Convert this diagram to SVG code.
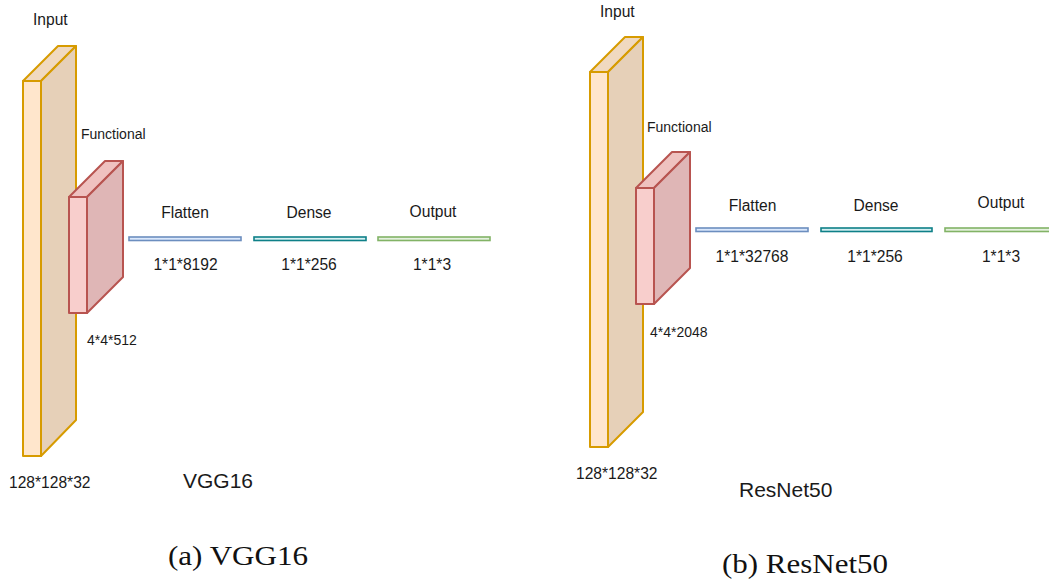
<svg xmlns="http://www.w3.org/2000/svg" width="1049" height="583" viewBox="0 0 1049 583">
  <style>
    .lbl { font-family: "Liberation Sans", Arial, sans-serif; fill: #1a1a1a; }
    .s15 { font-size: 15.6px; }
    .s14 { font-size: 14px; }
    .big { font-size: 21px; }
    .cap { font-family: "Liberation Serif", "Times New Roman", serif; font-size: 27px; fill: #111; }
    .mid { text-anchor: middle; }
    .in-front { fill: #ffe6cc; stroke: #d79b00; stroke-width: 2; stroke-linejoin: round; }
    .in-top { fill: #f0d9c0; stroke: #d79b00; stroke-width: 2; stroke-linejoin: round; }
    .in-side { fill: #e6d0b8; stroke: #d79b00; stroke-width: 2; stroke-linejoin: round; }
    .fn-front { fill: #f8cecc; stroke: #b85450; stroke-width: 2; stroke-linejoin: round; }
    .fn-top { fill: #efc2c0; stroke: #b85450; stroke-width: 2; stroke-linejoin: round; }
    .fn-side { fill: #dfb6b6; stroke: #b85450; stroke-width: 2; stroke-linejoin: round; }
    .flat { fill: #dae8fc; stroke: #6c8ebf; stroke-width: 1.6; }
    .dense { fill: #d6f0f2; stroke: #0e8088; stroke-width: 1.6; }
    .out { fill: #e4f1df; stroke: #82b366; stroke-width: 1.6; }
  </style>

  <!-- VGG16 model -->
  <g id="vgg-input">
    <polygon class="in-top" points="23,81 58,46 76,46 41,81"/>
    <polygon class="in-side" points="41,81 76,46 76,420 41,456"/>
    <rect class="in-front" x="23" y="81" width="18" height="375"/>
    <text class="lbl s15" x="33" y="25">Input</text>
    <text class="lbl s15" x="9" y="488">128*128*32</text>
  </g>
  <g id="vgg-functional">
    <polygon class="fn-top" points="69,197 105,161 123,161 87,197"/>
    <polygon class="fn-side" points="87,197 123,161 123,277 87,313"/>
    <rect class="fn-front" x="69" y="197" width="18" height="116"/>
    <text class="lbl s14" x="81" y="139">Functional</text>
    <text class="lbl s14" x="87" y="345">4*4*512</text>
  </g>
  <g id="vgg-flatten">
    <rect class="flat" x="129" y="237" width="112" height="3.5"/>
    <text class="lbl s15 mid" x="185" y="218">Flatten</text>
    <text class="lbl s15 mid" x="185.5" y="270">1*1*8192</text>
  </g>
  <g id="vgg-dense">
    <rect class="dense" x="254" y="237" width="112" height="3.5"/>
    <text class="lbl s15 mid" x="309" y="218">Dense</text>
    <text class="lbl s15 mid" x="309" y="270">1*1*256</text>
  </g>
  <g id="vgg-output">
    <rect class="out" x="378" y="237" width="112" height="3.5"/>
    <text class="lbl s15 mid" x="433" y="217">Output</text>
    <text class="lbl s15 mid" x="432" y="270">1*1*3</text>
  </g>
  <text class="lbl big" x="183" y="488">VGG16</text>
  <text class="cap" x="168" y="565" textLength="140" lengthAdjust="spacingAndGlyphs">(a) VGG16</text>

  <!-- ResNet50 model -->
  <g id="resnet-input">
    <polygon class="in-top" points="590,72 625,37 643,37 608,72"/>
    <polygon class="in-side" points="608,72 643,37 643,412 608,447"/>
    <rect class="in-front" x="590" y="72" width="18" height="375"/>
    <text class="lbl s15" x="600" y="17">Input</text>
    <text class="lbl s15" x="576" y="479">128*128*32</text>
  </g>
  <g id="resnet-functional">
    <polygon class="fn-top" points="636,188 672,152 690,152 654,188"/>
    <polygon class="fn-side" points="654,188 690,152 690,268 654,304"/>
    <rect class="fn-front" x="636" y="188" width="18" height="116"/>
    <text class="lbl s14" x="647" y="132">Functional</text>
    <text class="lbl s14" x="650" y="337">4*4*2048</text>
  </g>
  <g id="resnet-flatten">
    <rect class="flat" x="696" y="228" width="112" height="3.5"/>
    <text class="lbl s15 mid" x="752.5" y="211">Flatten</text>
    <text class="lbl s15 mid" x="752" y="262">1*1*32768</text>
  </g>
  <g id="resnet-dense">
    <rect class="dense" x="821" y="228" width="111" height="3.5"/>
    <text class="lbl s15 mid" x="876" y="211">Dense</text>
    <text class="lbl s15 mid" x="875" y="262">1*1*256</text>
  </g>
  <g id="resnet-output">
    <rect class="out" x="945" y="228" width="112" height="3.5"/>
    <text class="lbl s15 mid" x="1001" y="208">Output</text>
    <text class="lbl s15 mid" x="1001" y="262">1*1*3</text>
  </g>
  <text class="lbl big" x="739" y="497">ResNet50</text>
  <text class="cap" x="722" y="573" textLength="166" lengthAdjust="spacingAndGlyphs">(b) ResNet50</text>

  <!-- no connectors between layers -->
  <g id="connectors"/>
</svg>
